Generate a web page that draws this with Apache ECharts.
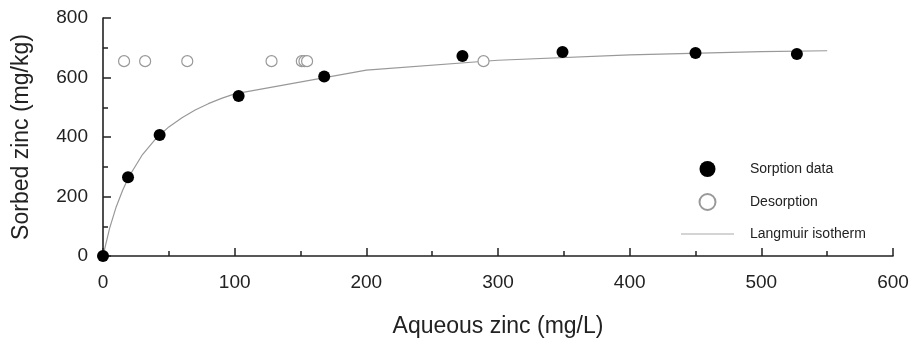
<!DOCTYPE html>
<html><head><meta charset="utf-8">
<script src="https://cdn.jsdelivr.net/npm/echarts@6/dist/echarts.min.js"></script>
<style>html,body{margin:0;padding:0;background:#fff}#c{width:910px;height:338px}</style>
</head><body><div id="c"></div>
<script>
const sorptionX = [0, 19, 43, 103, 168, 273, 349, 450, 527];
const sorptionY = [0, 265, 407, 538, 603, 672, 686, 682, 679];
const desorptionX = [16, 32, 64, 128, 151, 153, 155, 289];
const desorptionY = [655, 655, 655, 655, 655, 655, 655, 655];
const langmuirX = [0, 5, 10, 15, 20, 30, 40, 50, 60, 70, 80, 90, 100, 200, 300, 400, 500, 550];
const langmuirY = [0, 93, 165, 222, 269, 341, 394, 434, 465, 491, 512, 530, 545, 625, 658, 676, 687, 690];
const xTicks = [0, 100, 200, 300, 400, 500, 600];
const yTicks = [0, 200, 400, 600, 800];
const seriesNames = ['Sorption data', 'Desorption', 'Langmuir isotherm'];

const zip = (a, b) => a.map((v, i) => [v, b[i]]);
const font = 'Liberation Sans, Arial, sans-serif';
const chart = echarts.init(document.getElementById('c'));
chart.setOption({
  animation: false,
  backgroundColor: '#fff',
  grid: { left: 103, right: 17, top: 18, bottom: 82, containLabel: false, outerBoundsMode: 'none' },
  legend: {
    orient: 'vertical', left: 676, top: 156, itemWidth: 53, itemHeight: 16, itemGap: 16,
    data: [
      { name: seriesNames[0] },
      { name: seriesNames[1] },
      { name: seriesNames[2], icon: 'path://M0 0H53V1H0Z', itemStyle: { color: '#aaa' } }
    ],
    textStyle: { fontFamily: font, fontSize: 14, color: '#222', padding: [0, 0, 0, 11] }
  },
  xAxis: {
    type: 'value', min: xTicks[0], max: xTicks[xTicks.length - 1], interval: 100,
    name: 'Aqueous zinc (mg/L)', nameLocation: 'middle', nameGap: 59,
    nameTextStyle: { fontFamily: font, fontSize: 23, color: '#222' },
    axisLine: { show: true, lineStyle: { color: '#222', width: 1.6 } },
    axisTick: { show: true, inside: true, length: 8, lineStyle: { color: '#222', width: 1.5 } },
    minorTick: { show: true, splitNumber: 2, length: 5, lineStyle: { color: '#222', width: 1.5 } },
    axisLabel: { fontFamily: font, fontSize: 19, color: '#222', margin: 17 },
    splitLine: { show: false }
  },
  yAxis: {
    type: 'value', min: yTicks[0], max: yTicks[yTicks.length - 1], interval: 200,
    name: 'Sorbed zinc (mg/kg)', nameLocation: 'middle', nameGap: 70,
    nameTextStyle: { fontFamily: font, fontSize: 23, color: '#222' },
    axisLine: { show: true, lineStyle: { color: '#222', width: 1.6 } },
    axisTick: { show: true, inside: true, length: 8, lineStyle: { color: '#222', width: 1.5 } },
    minorTick: { show: true, splitNumber: 2, length: 5, lineStyle: { color: '#222', width: 1.5 } },
    axisLabel: { fontFamily: font, fontSize: 19, color: '#222', margin: 15 },
    splitLine: { show: false }
  },
  series: [
    { name: seriesNames[0], type: 'scatter', data: zip(sorptionX, sorptionY), symbol: 'circle', symbolSize: 12,
      itemStyle: { color: '#000', opacity: 1 }, z: 4 },
    { name: seriesNames[1], type: 'scatter', data: zip(desorptionX, desorptionY), symbol: 'circle', symbolSize: 11,
      itemStyle: { color: '#fff', borderColor: '#999', borderWidth: 1.2, opacity: 1 }, z: 3 },
    { name: seriesNames[2], type: 'line', data: zip(langmuirX, langmuirY), showSymbol: false, symbol: 'none',
      lineStyle: { color: '#999', width: 1.2 }, itemStyle: { color: '#999' }, z: 2 }
  ]
});
</script></body></html>
